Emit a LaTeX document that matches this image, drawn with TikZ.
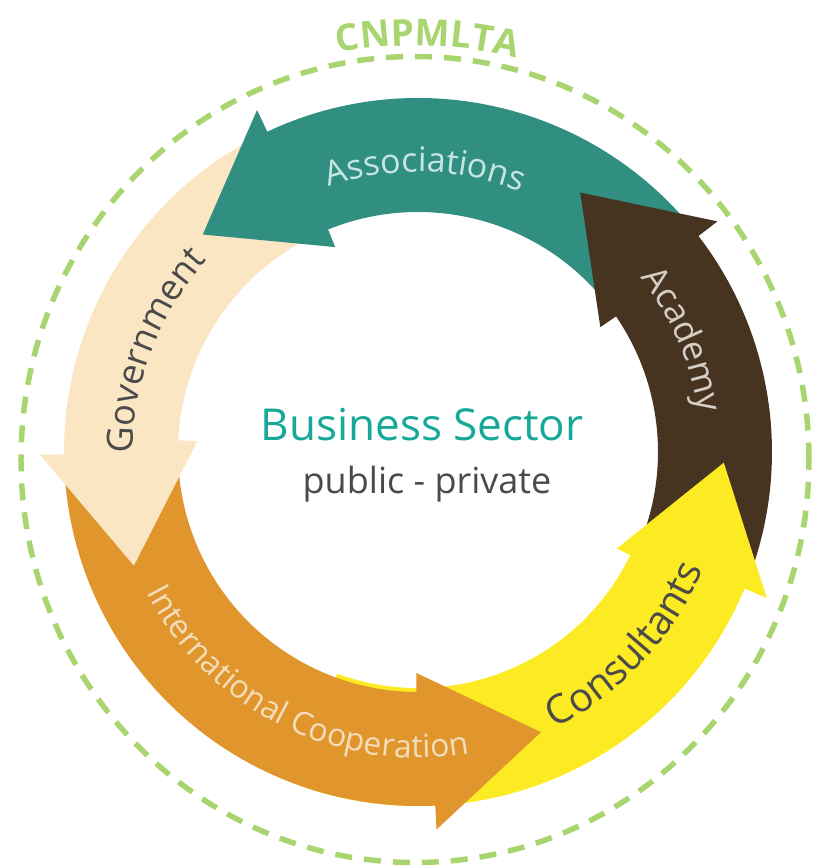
\documentclass[tikz,border=0pt]{standalone}
\usepackage{fontspec}
\setmainfont{Open Sans}
\usetikzlibrary{decorations.text}
\definecolor{assocteal}{HTML}{318F82}
\definecolor{govbeige}{HTML}{FAE6C3}
\definecolor{coopor}{HTML}{E0952D}
\definecolor{consyellow}{HTML}{FCEA22}
\definecolor{acadbrown}{HTML}{463421}
\definecolor{cnpgreen}{HTML}{A9D571}
\definecolor{sectorteal}{HTML}{16A898}
\definecolor{darktext}{HTML}{4A4A4A}
\definecolor{assoctext}{HTML}{C6E6DF}
\definecolor{acadtext}{HTML}{D4CEC6}
\definecolor{cooptext}{HTML}{F4DDBA}
\tikzset{ringtext/.style={decorate,
  decoration={text along path, text align=center, text={#1}}},
 }
\newcommand{\ringshaft}[4][240]{\fill[#2] (#3:354) arc[start angle=#3, end angle=#4, radius=354]
  -- (#4:#1) arc[start angle=#4, end angle=#3, radius=#1] -- cycle;}
\newcommand{\ringhead}[3]{\fill[#1] ({#2-1.6}:240) -- ({#2-1.6}:221) -- (#3:306)
  -- ({#2+1.6}:378) -- ({#2+1.6}:354) -- cycle;}

\begin{document}
\begin{tikzpicture}[x=1pt,y=1pt]
        \useasboundingbox (-418,-416) rectangle (403,452);
        \draw[cnpgreen, line width=5.5pt, dash pattern=on 17pt off 12pt] (-3,-7.5) ellipse[x radius=394, y radius=403];
        \path[ringtext={|\fontsize{37}{40}\selectfont\bfseries\color{cnpgreen}|CNPMLTA}]
            ([shift={(-3,-7.5)}]108.3:414) arc[start angle=108.3, end angle=68.3, radius=414];
        \ringshaft[236]{consyellow}{250}{337.7}
        \ringshaft{acadbrown}{-22.3}{38}
        \ringshaft{assocteal}{38}{115.6}
        \ringshaft{govbeige}{115.6}{180.8}
        \ringshaft{coopor}{180.8}{273.2}
        \ringhead{consyellow}{335.7}{358}
        \ringhead{acadbrown}{36}{58}
        \ringhead{assocteal}{113.6}{134.7}
        \ringhead{govbeige}{178.8}{201.8}
        \ringhead{coopor}{271.2}{293.7}
        \path[ringtext={|\fontsize{34}{40}\selectfont\color{assoctext}|Associations}]
            (128.5:280) arc[start angle=128.5, end angle=48.5, radius=280];
        \path[ringtext={|\fontsize{36}{40}\selectfont\color{darktext}|Government}]
            (199:285) arc[start angle=199, end angle=119, radius=285];
        \path[ringtext={|\fontsize{35}{40}\selectfont\color{acadtext}|Academy}]
            (63:283) arc[start angle=63, end angle=-17, radius=283];
        \path[ringtext={|\fontsize{40}{44}\selectfont\color{darktext}|Consultants}]
            (-83:308) arc[start angle=-83, end angle=-3, radius=308];
        \path[ringtext={|\fontsize{32}{40}\selectfont\color{cooptext}|International Cooperation}]
            (193.5:306) arc[start angle=193.5, end angle=293.5, radius=306];
        \node[anchor=base, text=sectorteal, font=\fontsize{44}{48}\selectfont] (sector) at (4,12) {Business Sector};
        \node[anchor=base, text=darktext, font=\fontsize{36}{40}\selectfont] (kind) at (9,-41) {public - private};
    \end{tikzpicture}
\end{document}
